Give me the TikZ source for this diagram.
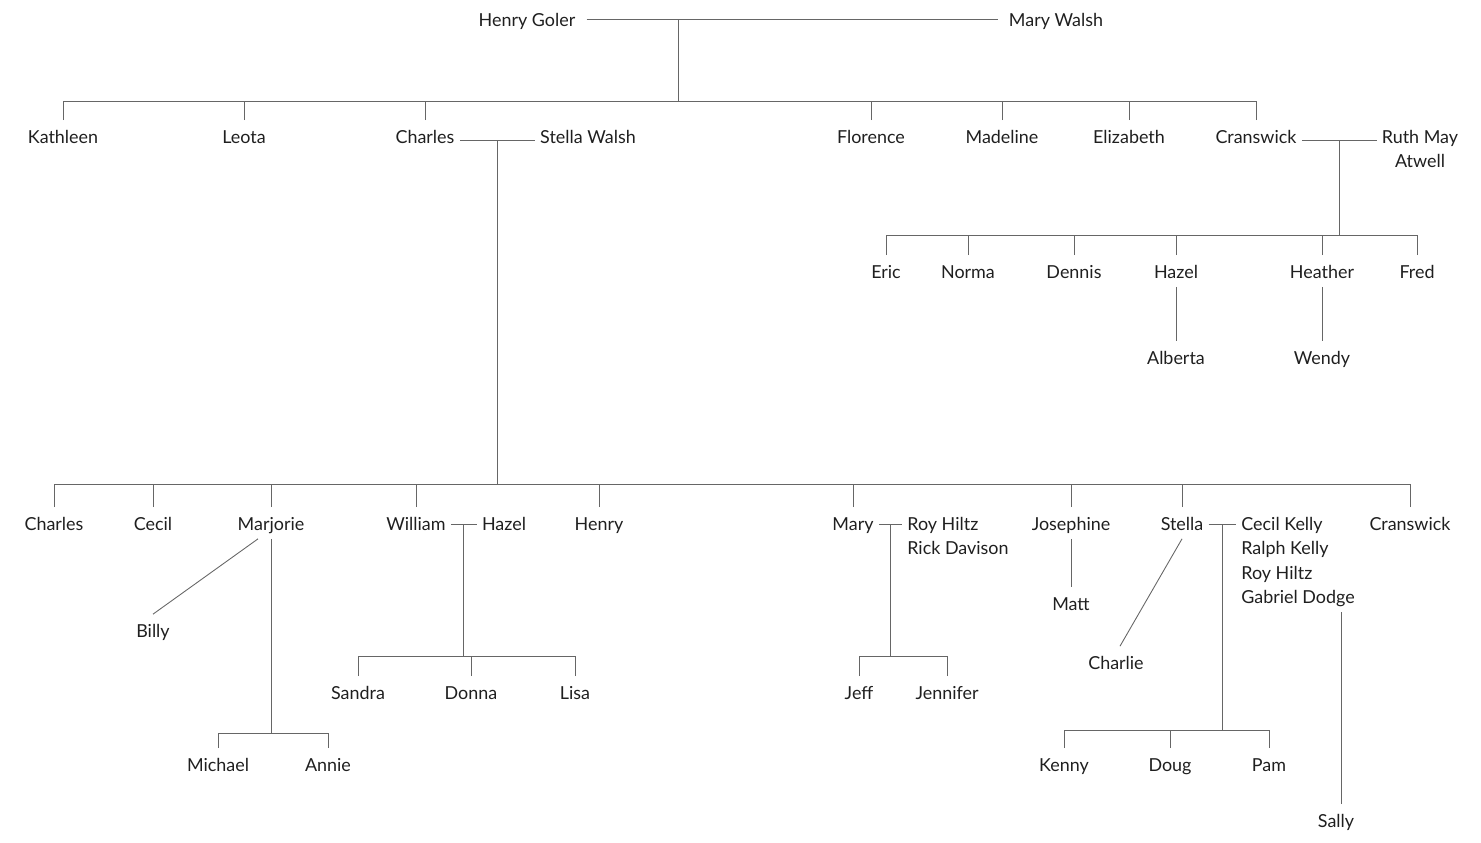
\documentclass[tikz,border=0pt]{standalone}
\usepackage{fontspec}
\setmainfont{Lato}
\usepackage{tikz}
\tikzset{
  person/.style={font=\fontsize{10.2}{12}\selectfont, text=black!88, inner xsep=0.1cm, inner ysep=0.16cm, text height=0.3cm, text depth=0pt},
  link/.style={draw=black!60, line width=0.5pt},
}
\begin{document}
\begin{tikzpicture}[x=0.02cm,y=-0.02cm]
  \useasboundingbox (0,0) rectangle (1481,842);
  % generation 1
  \node[person] (henry) at (527,19) {Henry Goler};
  \node[person] (marywalsh) at (1056,19) {Mary Walsh};
  % generation 2
  \node[person] (kathleen) at (63,136) {Kathleen};
  \node[person] (leota) at (244,136) {Leota};
  \node[person] (charles) at (425,136) {Charles};
  \node[person] (stellaw) at (588,136) {Stella Walsh};
  \node[person] (florence) at (871,136) {Florence};
  \node[person] (madeline) at (1002,136) {Madeline};
  \node[person] (elizabeth) at (1129,136) {Elizabeth};
  \node[person] (cranswick) at (1256,136) {Cranswick};
  \node[person] (ruth) at (1420,136) {Ruth May};
  \node[person] (atwell) at (1420,160) {Atwell};
  % cranswick's children
  \node[person] (eric) at (886,271) {Eric};
  \node[person] (norma) at (968,271) {Norma};
  \node[person] (dennis) at (1074,271) {Dennis};
  \node[person] (hazelc) at (1176,271) {Hazel};
  \node[person] (heather) at (1322,271) {Heather};
  \node[person] (fred) at (1417,271) {Fred};
  \node[person] (alberta) at (1176,357) {Alberta};
  \node[person] (wendy) at (1322,357) {Wendy};
  % charles's children
  \node[person] (charlesj) at (54,523) {Charles};
  \node[person] (cecil) at (153,523) {Cecil};
  \node[person] (marjorie) at (271,523) {Marjorie};
  \node[person] (william) at (416,523) {William};
  \node[person] (hazelw) at (504,523) {Hazel};
  \node[person] (henryj) at (599,523) {Henry};
  \node[person] (mary) at (853,523) {Mary};
  \node[person,anchor=west] (roy) at (902,523) {Roy Hiltz};
  \node[person,anchor=west] (rick) at (902,547) {Rick Davison};
  \node[person] (josephine) at (1071,523) {Josephine};
  \node[person] (stella) at (1182,523) {Stella};
  \node[person,anchor=west] (cecilk) at (1236,523) {Cecil Kelly};
  \node[person,anchor=west] (ralph) at (1236,547) {Ralph Kelly};
  \node[person,anchor=west] (royh) at (1236,572) {Roy Hiltz};
  \node[person,anchor=west] (gabriel) at (1236,596) {Gabriel Dodge};
  \node[person] (cranswickj) at (1410,523) {Cranswick};
  % grandchildren
  \node[person] (billy) at (153,630) {Billy};
  \node[person] (matt) at (1071,603) {Matt};
  \node[person] (charlie) at (1116,662) {Charlie};
  \node[person] (sandra) at (358,692) {Sandra};
  \node[person] (donna) at (471,692) {Donna};
  \node[person] (lisa) at (575,692) {Lisa};
  \node[person] (jeff) at (859,692) {Jeff};
  \node[person] (jennifer) at (947,692) {Jennifer};
  \node[person] (michael) at (218,764) {Michael};
  \node[person] (annie) at (328,764) {Annie};
  \node[person] (kenny) at (1064,764) {Kenny};
  \node[person] (doug) at (1170,764) {Doug};
  \node[person] (pam) at (1269,764) {Pam};
  \node[person] (sally) at (1336,820) {Sally};

  % bar heights
  \coordinate (bar1) at (0,101);
  \coordinate (bar2) at (0,235);
  \coordinate (bar3) at (0,484);
  \coordinate (bar4) at (0,656);
  \coordinate (bar6) at (0,733);
  \coordinate (bar7) at (0,730);

  % Henry Goler & Mary Walsh
  \draw[link] ([xshift=0.12cm]henry.east) -- ([xshift=-0.12cm]marywalsh.west);
  \coordinate (hm) at (678,19);
  \draw[link] (hm) -- (hm |- bar1);
  \draw[link] (kathleen.north |- bar1) -- (cranswick.north |- bar1);
  \foreach \n in {kathleen,leota,charles,florence,madeline,elizabeth,cranswick}
    \draw[link] (\n.north) -- (\n.north |- bar1);

  % Cranswick & Ruth May Atwell
  \draw[link] ([yshift=-0.08cm]cranswick.east) -- coordinate[midway] (cr) ([yshift=-0.08cm]ruth.west);
  \draw[link] (cr) -- (cr |- bar2);
  \draw[link] (eric.north |- bar2) -- (fred.north |- bar2);
  \foreach \n in {eric,norma,dennis,hazelc,heather,fred}
    \draw[link] (\n.north) -- (\n.north |- bar2);
  \draw[link] (hazelc.south) -- (alberta.north);
  \draw[link] (heather.south) -- (wendy.north);

  % Charles & Stella Walsh
  \draw[link] ([yshift=-0.08cm]charles.east) -- coordinate[midway] (cs) ([yshift=-0.08cm]stellaw.west);
  \draw[link] (cs) -- (cs |- bar3);
  \draw[link] (charlesj.north |- bar3) -- (cranswickj.north |- bar3);
  \foreach \n in {charlesj,cecil,marjorie,william,henryj,mary,josephine,stella,cranswickj}
    \draw[link] (\n.north) -- (\n.north |- bar3);

  % Marjorie
  \draw[link] ([xshift=-0.26cm]marjorie.south) -- (billy.north);
  \draw[link] (marjorie.south) -- (marjorie.south |- bar6);
  \draw[link] (michael.north |- bar6) -- (annie.north |- bar6);
  \foreach \n in {michael,annie}
    \draw[link] (\n.north) -- (\n.north |- bar6);

  % William & Hazel
  \draw[link] ([yshift=-0.03cm]william.east) -- coordinate[midway] (wh) ([yshift=-0.03cm]hazelw.west);
  \draw[link] (wh) -- (wh |- bar4);
  \draw[link] (sandra.north |- bar4) -- (lisa.north |- bar4);
  \foreach \n in {sandra,donna,lisa}
    \draw[link] (\n.north) -- (\n.north |- bar4);

  % Mary & Roy Hiltz
  \draw[link] ([yshift=-0.03cm]mary.east) -- coordinate[midway] (mr) ([yshift=-0.03cm]roy.west);
  \draw[link] (mr) -- (mr |- bar4);
  \draw[link] (jeff.north |- bar4) -- (jennifer.north |- bar4);
  \foreach \n in {jeff,jennifer}
    \draw[link] (\n.north) -- (\n.north |- bar4);

  % Josephine
  \draw[link] (josephine.south) -- (matt.north);

  % Stella & Cecil Kelly
  \draw[link] (stella.south) -- ([xshift=0.08cm]charlie.north);
  \draw[link] ([yshift=-0.03cm]stella.east) -- coordinate[midway] (sc) ([yshift=-0.03cm]cecilk.west);
  \draw[link] (sc) -- (sc |- bar7);
  \draw[link] (kenny.north |- bar7) -- (pam.north |- bar7);
  \foreach \n in {kenny,doug,pam}
    \draw[link] (\n.north) -- (\n.north |- bar7);
  \draw[link] ([xshift=0.1cm]sally.north) -- ([xshift=0.1cm]sally.north |- gabriel.south);
\end{tikzpicture}
\end{document}
